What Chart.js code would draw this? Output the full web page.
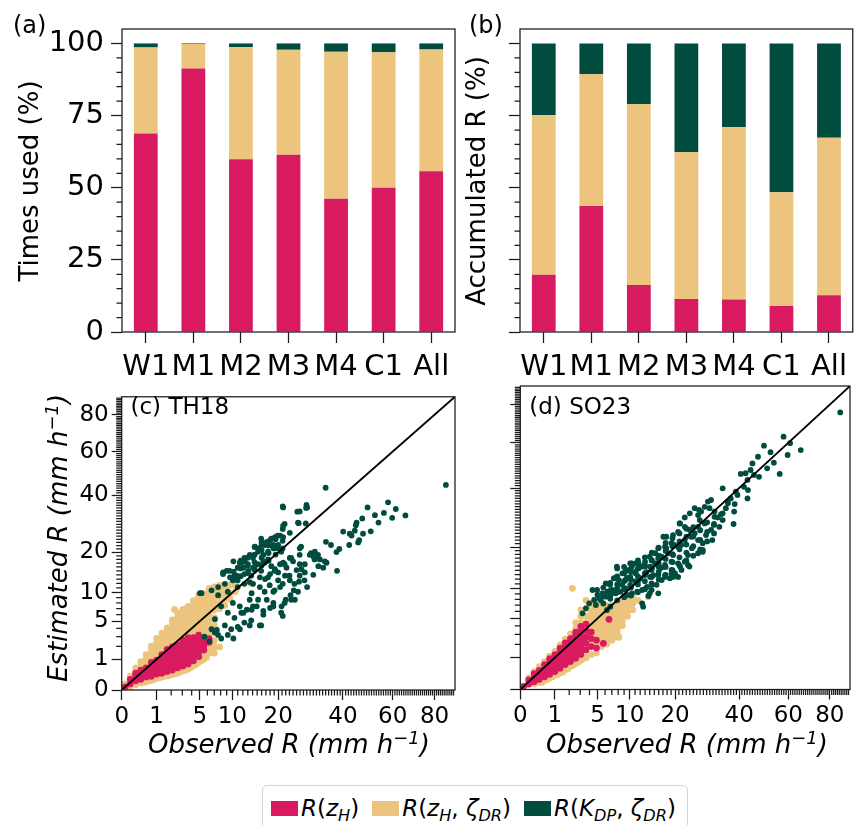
<!DOCTYPE html>
<html>
<head>
<meta charset="utf-8">
<script src="https://cdn.jsdelivr.net/npm/chart.js@4.4.1/dist/chart.umd.min.js"></script>
<style>
  body { margin: 0; background: #fff; }
  #fig { position: relative; width: 854px; height: 825px; overflow: hidden; font-family: "DejaVu Sans", sans-serif; }
  #fig canvas { position: absolute; }
  #legend { position: absolute; left: 262px; top: 785px; width: 426px; height: 60px; box-sizing: border-box;
            border: 1px solid #d4d4d4; border-radius: 5px; display: flex; align-items: flex-start;
            padding: 9px 0 0 8px; font-size: 23px; color: #000; }
  .item { display: flex; align-items: center; margin-right: 13px; white-space: nowrap; }
  .swatch { width: 27px; height: 15px; margin-right: 3px; }
  sub { font-size: 70%; vertical-align: -0.28em; line-height: 0; }
</style>
</head>
<body>
<div id="fig">
  <canvas id="pa" width="460" height="380" style="left:0;top:0"></canvas>
  <canvas id="pb" width="394" height="380" style="left:460px;top:0"></canvas>
  <canvas id="pc" width="460" height="400" style="left:0;top:380px"></canvas>
  <canvas id="pd" width="394" height="400" style="left:460px;top:380px"></canvas>
  <div id="legend"></div>
</div>
<script>
const categories = ['W1', 'M1', 'M2', 'M3', 'M4', 'C1', 'All'];

// how often each estimator was picked (%)
const usedZH     = [68.8, 91.3, 59.9, 61.4, 46.2, 50.0, 55.7];
const usedZHZdr  = [29.8, 8.5, 38.8, 36.4, 50.9, 46.9, 42.2];
const usedKdpZdr = [1.4, 0.2, 1.3, 2.2, 2.9, 3.1, 2.1];

// share of the accumulated rain (%)
const accZH      = [19.8, 43.7, 16.3, 11.4, 11.3, 9.0, 12.7];
const accZHZdr   = [55.3, 45.7, 62.7, 50.9, 59.7, 39.4, 54.6];
const accKdpZdr  = [24.9, 10.6, 21.0, 37.7, 29.0, 51.6, 32.7];

const pctTicks  = [0, 25, 50, 75, 100];
const rateTicks = [0, 1, 5, 10, 20, 40, 60, 80];
const rateMax   = 90.8;

const seriesNames  = ['R(z_H)', 'R(z_H, ζ_DR)', 'R(K_DP, ζ_DR)'];
const seriesColors = ['#D81B60', '#ECC47E', '#004D40'];

// observed vs estimated rain rate (mm/h), TH18
const th18ZH = [
  [0.01,0.01],[0.06,0.04],[0.06,0.12],[0.16,0.09],[0.16,0.2],[0.16,0.3],
  [0.3,0.12],[0.3,0.25],[0.3,0.42],[0.49,0.18],[0.49,0.32],[0.49,0.52],
  [0.72,0.2],[0.72,0.36],[0.72,0.56],[0.72,0.81],[1,0.27],[1,0.45],[1,0.67],[1,0.94],
  [1.32,0.3],[1.32,0.49],[1.32,0.72],[1.32,1],[1.32,1.32],
  [1.69,0.36],[1.69,0.56],[1.69,0.81],[1.69,1.1],[1.69,1.44],[1.69,1.74],
  [2.1,0.42],[2.1,0.64],[2.1,0.9],[2.1,1.21],[2.1,1.56],[2.1,1.96],
  [2.56,0.52],[2.56,0.76],[2.56,1.04],[2.56,1.37],[2.56,1.74],[2.56,2.16],
  [3.06,0.61],[3.06,0.86],[3.06,1.17],[3.06,1.51],[3.06,1.9],[3.06,2.34],[3.06,2.62],
  [3.61,0.72],[3.61,1],[3.61,1.32],[3.61,1.69],[3.61,2.1],[3.61,2.56],[3.61,2.89],
  [4.2,0.9],[4.2,1.21],[4.2,1.56],[4.2,1.96],[4.2,2.4],[4.2,2.89],
  [4.84,1.17],[4.84,1.51],[4.84,1.9],[4.84,2.34],[4.84,2.82],[4.84,3.17],
  [5.52,1.69],[5.52,2.1],[5.52,2.56],[6.25,2.4],[6.25,2.79],
  [0.39,0.2],[0.6,0.3],[0.86,0.42],[1.16,0.58],[1.5,0.74],[1.89,0.92],[2.33,1.12],[2.81,1.35],[3.33,1.6],[3.9,1.85],[4.52,2.1]
];
const th18ZHZdr = [
  [0.01,0.04],[0.06,0.2],[0.06,0.01],[0.16,0.36],[0.16,0.52],[0.16,0.03],
  [0.3,0.61],[0.3,0.85],[0.3,0.05],[0.49,0.72],[0.49,1],[0.49,1.32],[0.49,0.07],
  [0.72,1],[0.72,1.32],[0.72,1.69],[0.72,2.02],[0.72,0.1],
  [1,1.21],[1,1.56],[1,1.96],[1,2.4],[1,2.82],[1,0.14],
  [1.32,1.64],[1.32,2.04],[1.32,2.5],[1.32,2.99],[1.32,3.42],[1.32,0.18],
  [1.69,2.1],[1.69,2.56],[1.69,3.06],[1.69,3.61],[1.69,4.08],[1.69,0.21],
  [2.1,2.4],[2.1,2.89],[2.1,3.42],[2.1,4],[2.1,4.62],[2.1,5.2],[2.1,0.25],
  [2.56,2.62],[2.56,3.13],[2.56,3.69],[2.56,4.28],[2.56,4.93],[2.56,5.62],[2.56,6.25],[2.56,0.31],
  [3.06,3.06],[3.06,3.61],[3.06,4.2],[3.06,4.84],[3.06,5.52],[3.06,6.25],[3.06,6.86],[3.06,0.38],
  [3.61,3.31],[3.61,3.88],[3.61,4.49],[3.61,5.15],[3.61,5.86],[3.61,6.6],[3.61,7.4],[3.61,0.46],
  [4.2,3.42],[4.2,4],[4.2,4.62],[4.2,5.29],[4.2,6],[4.2,6.76],[4.2,7.56],[4.2,8.41],[4.2,0.61],
  [4.84,3.69],[4.84,4.28],[4.84,4.93],[4.84,5.62],[4.84,6.35],[4.84,7.13],[4.84,7.95],[4.84,8.82],[4.84,9.49],[4.84,0.81],
  [5.52,3.17],[5.52,3.72],[5.52,4.33],[5.52,4.97],[5.52,5.66],[5.52,6.4],[5.52,7.18],[5.52,8.01],[5.52,8.88],[5.52,9.8],[5.52,1],[5.52,1.25],
  [6.25,1.44],[6.25,1.82],[6.25,2.25],[6.25,3.31],[6.25,3.88],[6.25,4.49],[6.25,5.15],[6.25,5.86],[6.25,6.6],[6.25,7.4],[6.25,8.24],[6.25,9.12],[6.25,10.05],[6.25,10.89],
  [7.02,1.44],[7.02,1.96],[7.02,2.56],[7.02,3.42],[7.02,4.41],[7.02,5.52],[7.02,6.76],[7.02,7.84],[7.02,9],[7.02,10.24],[7.02,11.22],
  [7.84,1.96],[7.84,7.02],[7.84,8.12],[7.84,9.3],[7.84,10.56],[7.84,11.56],
  [8.7,7.56],[8.7,8.7],[8.7,9.92],[8.7,11.22],[9.61,8.7],[9.61,9.92],[9.61,11.56],
  [10.56,10.24],[10.56,11.56],[2.28,6.86],[13.69,11.9],[9.8,11.9],[10.7,11.2],
  [0.39,0.06],[0.6,0.09],[0.86,0.12],[1.16,0.16],[1.5,0.2],[1.89,0.23],[2.33,0.28],[2.81,0.34],
  [3.33,0.42],[3.9,0.53],[4.52,0.7],[5.18,0.9],[5.86,1.12],
  [0.39,0.6],[0.6,0.9],[0.86,1.3],[1.16,1.8],[1.5,2.3],[1.89,2.9],[2.33,3.5],[2.81,4.1],[3.33,4.8],[3.9,5.5],[4.52,6.3],[5.18,7.1],[5.86,8]
];
const th18KdpZdr = [
  [85.9,44.4],[34.0,43.2],[21.3,35.2],[25.2,33.6],[27.9,36.2],[28.1,35.2],[58.0,37.2],[61.4,34.6],[65.8,32.2],[56.2,33.1],
  [52.4,32.3],[59.8,31.3],[49.4,35.2],[47.3,31.1],[53.9,29.6],[45.1,29.6],[44.8,28.7],[50.7,26.6],[40.1,26.5],[42.5,25.8],
  [43.2,25.2],[44.4,26.8],[47.6,25.8],[46.1,23.7],[45.7,23.0],[42.3,22.2],[38.7,21.0],[37.7,20.1],[34.1,23.2],[35.8,22.2],
  [25.9,21.2],[25.6,29.4],[27.7,29.3],[21.3,28.5],[23.1,26.1],[20.5,25.2],[19.2,24.7],[21.3,24.7],[18.0,23.7],[16.4,22.4],
  [14.5,21.7],[18.8,22.2],[19.9,21.2],[30.5,20.2],[28.9,19.3],[30.0,18.9],[31.0,18.4],[32.1,18.0],[33.7,17.5],[34.3,17.1],
  [37.9,15.0],[33.2,15.8],[31.6,16.2],[30.0,14.0],[28.1,11.2],[27.4,16.7],[25.9,16.7],[25.0,15.2],[26.4,15.4],[27.4,14.6],
  [25.7,12.4],[24.2,10.5],[23.3,9.5],[24.5,8.6],[22.0,8.6],[20.9,7.4],[23.1,12.7],[21.8,13.8],[20.0,12.7],[20.5,11.2],
  [18.8,10.2],[17.2,8.6],[18.8,8.0],[18.0,7.1],[16.4,6.6],[21.2,5.8],[16.4,6.0],[14.9,7.4],[13.8,9.9],[15.6,11.2],
  [16.8,13.0],[18.0,14.2],[19.2,15.4],[20.5,16.7],[22.2,15.8],[24.0,17.5],[25.9,19.3],[23.1,18.4],[21.3,17.1],[20.0,14.6],
  [15.6,13.4],[14.1,11.9],[13.4,8.6],[12.8,6.8],[12.1,6.3],[11.4,7.4],
  [10.2,17.5],[11.4,17.1],[12.4,17.5],[13.4,19.3],[14.1,18.4],[15.2,20.2],[16.4,19.3],[17.5,20.2],[18.8,21.2],[20.0,22.2],
  [12.1,15.8],[13.1,15.0],[14.1,15.8],[15.2,16.7],[16.4,17.5],[17.5,18.0],[9.0,15.0],[9.6,13.4],[10.8,13.8],[8.4,14.2],
  [16.0,22.4],[17.2,23.2],[5.2,9.9],[6.6,10.5],[7.6,11.2],[8.7,11.9],[10.1,12.7],[8.4,14.6],[9.5,15.0],[11.0,15.8],
  [11.7,17.1],[13.0,16.7],[12.3,18.4],[14.4,19.3],[15.2,21.2],[16.7,22.2],[15.9,24.2],[18.3,24.2],[19.9,25.2],[21.2,27.4],
  [21.7,29.1],[25.4,29.6],[25.9,33.7],[21.2,35.6],[27.8,35.0],[13.7,13.8],[10.4,13.8],[7.6,9.5],[9.2,10.2],[11.0,11.2],
  [12.3,11.9],[19.1,21.2],[20.8,20.2],[16.7,17.1],[18.3,16.2],
  [6.6,3.9],[7.6,3.2],[8.7,4.4],[7.1,5.3],[9.2,6.3],[8.1,7.4],[10.1,8.0],[10.4,5.5],[11.7,6.3],[12.3,4.8],
  [13.7,5.1],[15.9,4.4],[14.1,7.4],[15.2,8.6],[16.7,10.2],[17.9,11.6],[19.1,10.5],[21.2,11.9],[21.7,8.0],[23.5,8.6],
  [25.4,10.2],[27.3,12.7],[25.9,13.8],[26.3,21.7],[29.3,19.8],[30.4,18.0],[31.5,19.3],[20.8,6.3],[5.6,3.0],[6.3,2.5],
  [7.1,3.5],[8.1,2.8],[9.2,3.2],[9.8,3.9],[11.0,4.2],[10.2,2.8],[11.4,3.9],[13.4,4.4],[15.6,4.4],[13.8,6.8],
  [18.8,7.4],[5.0,9.9],[7.4,3.8],[14.4,15.8],[15.9,15.0],[17.5,13.4],[19.1,15.0],[21.7,16.7],[23.5,18.4],[23.0,13.8],
  [24.4,11.9],[12.3,14.2],[11.0,12.7],[13.4,12.3],
  [10.24,12.96],[10.24,14.82],[11.56,13.69],[11.56,15.6],[11.56,17.64],[12.96,14.44],[12.96,16.4],[12.96,18.49],
  [14.44,15.21],[14.44,17.22],[14.44,19.36],[14.44,21.62],[16,16.4],[16,18.49],[16,20.7],[16,23.04],
  [17.64,17.64],[17.64,19.8],[17.64,22.09],[19.36,19.36],[19.36,21.62],[19.36,24.01],[21.16,21.16],[21.16,23.52]
];

// observed vs estimated rain rate (mm/h), SO23
const so23ZH = [
  [0.01,0.01],[0.06,0.03],[0.06,0.09],[0.16,0.06],[0.16,0.14],[0.16,0.25],
  [0.3,0.1],[0.3,0.21],[0.3,0.36],[0.49,0.16],[0.49,0.28],[0.49,0.44],[0.49,0.61],
  [0.72,0.23],[0.72,0.37],[0.72,0.55],[0.72,0.76],[0.72,0.94],
  [1,0.32],[1,0.49],[1,0.69],[1,0.92],[1,1.19],
  [1.32,0.45],[1.32,0.64],[1.32,0.86],[1.32,1.12],[1.32,1.42],[1.32,1.69],
  [1.69,0.61],[1.69,0.85],[1.69,1.12],[1.69,1.44],[1.69,1.8],[1.69,2.13],
  [2.1,0.77],[2.1,1.04],[2.1,1.35],[2.1,1.69],[2.1,2.07],[2.1,2.56],
  [2.56,0.96],[2.56,1.25],[2.56,1.59],[2.56,1.96],[2.56,2.37],[2.56,2.82],[2.56,3.24],
  [3.06,1.21],[3.06,1.56],[3.06,1.96],[3.06,2.4],[3.06,2.89],[3.06,3.42],[3.06,3.92],
  [3.61,1.56],[3.61,2.1],[3.61,2.72],[3.61,3.42],[3.61,4.2],
  [4.2,1.82],[4.2,2.56],[4.2,3.24],[4.84,1.69],[4.84,2.4],[5.76,2.1],[6.57,4.86],
  [0.39,0.25],[0.6,0.4],[0.86,0.6],[1.16,0.8],[1.5,1.05],[1.89,1.32],[2.33,1.62],[2.81,1.96],[3.33,2.3]
];
const so23ZHZdr = [
  [0.06,0.13],[0.16,0.31],[0.3,0.52],[0.49,0.77],[0.72,1.1],[1,1.44],[1.32,1.96],[1.69,2.5],[2.1,3.06],
  [2.56,3.69],[2.56,4.41],[3.06,4.41],[3.06,5.29],[3.06,6.25],[3.61,4.41],[3.61,5.29],[3.61,6.5],[3.61,7.84],
  [0.16,0.03],[0.3,0.05],[0.49,0.08],[0.72,0.13],[1,0.19],[1.32,0.27],[1.69,0.38],[2.1,0.52],[2.56,0.67],
  [3.06,0.85],[3.61,1],[3.61,1.21],
  [4.2,1.21],[4.2,2.1],[4.2,2.89],[4.2,3.8],[4.2,4.41],[4.2,5.06],[4.2,5.76],[4.2,6.5],[4.2,7.29],
  [4.84,1.32],[4.84,1.96],[4.84,2.72],[4.84,3.42],[4.84,4],[4.84,4.62],[4.84,5.29],[4.84,6],[4.84,6.76],[4.84,7.56],
  [5.52,1.82],[5.52,2.25],[5.52,2.72],[5.52,3.24],[5.52,3.8],[5.52,4.41],[5.52,5.06],[5.52,5.76],[5.52,6.5],[5.52,7.29],
  [6.25,2.04],[6.25,2.5],[6.25,2.99],[6.25,3.53],[6.25,4.12],[6.25,4.75],[6.25,5.43],[6.25,6.15],[6.25,6.92],
  [7.02,2.4],[7.02,3.06],[7.02,3.61],[7.02,4.2],[7.02,4.84],[7.02,5.52],[7.02,6.25],[7.02,7.02],
  [7.84,2.72],[7.84,3.24],[7.84,3.8],[7.84,4.41],[7.84,5.06],[7.84,5.76],[7.84,6.5],[7.84,7.29],
  [8.7,4],[8.7,4.62],[8.7,5.29],[8.7,6],[8.7,6.76],[8.7,7.56],
  [9.61,5.29],[9.61,6],[9.61,6.76],[9.61,7.56],[9.61,8.41],
  [10.56,6.25],[10.56,7.29],[10.56,8.41],[11.56,7.84],[13.69,8.47],[2.27,10.1],[8.12,2.69],
  [0.39,0.05],[0.6,0.1],[0.86,0.16],[1.16,0.22],[1.5,0.3],[1.89,0.42],[2.33,0.58],[2.81,0.74],[3.33,0.95]
];
const so23KdpZdr = [
  [85.5,75.7],[57.9,63.0],[60.8,59.8],[65.7,56.5],[59.7,54.2],[49.6,58.6],[52.3,55.5],[47.2,53.4],[53.7,50.7],[56.2,45.8],
  [50.9,48.2],[47.6,44.6],[45.0,50.4],[44.3,47.5],[42.4,46.1],[40.6,45.8],[45.6,45.4],[43.1,43.3],[41.8,40.5],[43.3,39.2],
  [43.1,36.0],[38.8,38.6],[39.4,37.3],[37.0,36.0],[38.4,33.9],[38.2,31.2],[38.0,27.0],[35.9,34.8],[34.2,39.9],[34.2,30.6],
  [32.6,29.2],[35.3,32.4],[31.5,29.4],[30.4,35.4],[29.4,34.8],[28.4,32.9],[29.9,32.4],[31.5,31.2],[27.3,31.2],[26.4,30.0],
  [26.9,28.3],[30.4,25.1],[33.1,26.1],[28.4,27.2],[25.4,32.4],[24.0,30.6],[22.6,29.2],[21.3,27.2],[22.6,26.1],[24.0,25.1],
  [25.4,24.1],[26.4,26.1],[24.4,23.0],[26.4,22.0],[27.8,21.1],[27.8,18.7],[20.8,24.5],[19.5,23.5],[19.1,21.1],[20.8,20.1],
  [22.6,22.0],[17.1,23.0],[17.5,20.1],[15.9,19.7],[15.2,18.3],[14.4,16.5],[16.7,17.4],[18.3,18.3],[19.5,17.8],[19.1,16.1],
  [21.3,14.9],[17.5,14.9],[15.9,14.9],[14.1,14.9],[13.0,16.1],[12.4,14.9],[11.7,15.7],[10.4,15.7],[11.1,13.7],[9.8,14.1],
  [8.7,13.3],[7.8,12.5],[7.3,12.2],[14.4,12.5],[15.9,12.9],[17.5,12.5],[19.1,13.3],[20.8,12.5],[26.4,18.3],
  [3.24,5.72],[3.6,6.5],[3.96,7.32],[4.55,7.9],[4.97,8.8],[5.62,9.12],[6.32,9.43],[7.06,9.76],[7.84,10.1],[8.66,10.8],
  [9.24,11.8],[10.1,12.5],[11.1,13.3],[11.7,14.5],[11.1,15.7],[13.0,14.9],[14.4,14.1],[15.2,15.7],[17.5,15.3],[19.1,14.1],
  [20.8,15.7],[22.6,16.1],[17.5,12.9],[15.9,9.12],[13.7,8.62],[12.4,7.32],[4.77,7.04],[5.41,7.9],[6.1,8.49],[6.82,8.8],
  [7.59,9.12],[8.39,9.43],[9.24,10.1],[10.1,10.8],[11.1,11.5],[12.0,12.2],[13.0,12.9],[14.1,12.5],[14.4,11.1],[13.4,10.4],
  [12.4,9.76],[11.4,9.43],[10.4,9.12],[9.52,8.8],[14.4,9.76],[15.5,10.8],[16.7,11.8],[18.7,12.2],[20.0,13.3],[21.7,14.1],
  [23.5,15.3],[4.35,9.76],[6.1,11.1],[7.59,12.2],[9.24,13.7],[10.4,14.9],[4.93,9.76],[7.79,14.9],[10.1,15.7],[14.0,17.4],
  [17.8,23.0],[21.2,27.2],[26.7,31.8],[6.28,6.23],[12.6,6.76],[14.0,9.12],[19.5,12.5],[23.9,14.9],[27.8,19.2],[30.8,22.0],
  [9.47,12.3],[11.7,11.8],[13.3,13.6],[15.9,17.0],[17.8,19.7],[19.8,20.6],[24.6,19.7],[28.8,23.5],[31.3,26.7],[34.2,28.3],
  [23.5,17.8],[21.6,20.6],[14.8,12.9],[16.6,14.6],[6.72,10.8],[8.12,11.8],[5.19,8.25],
  [5.76,7.29],[5.76,8.7],[5.76,10.24],[6.76,6.76],[6.76,8.12],[6.76,9.61],[6.76,11.22],
  [7.84,7.84],[7.84,9.3],[7.84,10.89],[7.84,12.6],[7.84,14.44],[9,8.41],[9,9.92],[9,11.56],[9,13.32],[9,14.82],
  [10.24,8.7],[10.24,10.24],[10.24,11.9],[10.24,13.69],[10.24,15.6],[11.56,9.3],[11.56,10.89],[11.56,12.6],[11.56,14.44],[11.56,16.4],
  [12.96,9.92],[12.96,11.56],[12.96,13.32],[12.96,15.21],[12.96,17.22],[14.44,10.89],[14.44,12.6],[14.44,14.44],[14.44,16.4],[14.44,18.49],
  [16,11.9],[16,13.69],[16,15.6],[16,17.64],[16,19.8],[17.64,12.96],[17.64,14.82],[17.64,16.81],[17.64,18.92],[17.64,21.16],
  [19.36,14.06],[19.36,16],[19.36,18.06],[19.36,20.25],[19.36,22.56],[21.16,15.21],[21.16,17.22],[21.16,19.36],[21.16,21.62],[21.16,24.01],
  [23.04,16.4],[23.04,18.49],[23.04,20.7],[23.04,23.04],[23.04,25.5],[25,17.64],[25,20.25],[25,23.04],[25,26.01],
  [27.04,19.36],[27.04,22.09],[27.04,25],[29.16,21.62],[29.16,24.5],[29.16,27.56],[31.36,24.01],[31.36,27.04],[33.64,30.25],[36,34.22]
];

const ink = '#1a1a1a';
const FONT = 'DejaVu Sans';
Chart.defaults.font.family = FONT;
Chart.defaults.color = '#000';

// minor ticks: every 5 % on the bar panels, every 1 mm/h on the rate panels
const pctMinor = [];
for (let v = 5; v < 105; v += 5) if (v % 25) pctMinor.push(v);
const rateMinor = [];
for (let v = 2; v <= 90; v++) if (!rateTicks.includes(v)) rateMinor.push(v);

// square-root axis for the rain-rate panels
class SqrtScale extends Chart.LinearScale {
  buildTicks() {
    return rateTicks.map(v => ({ value: v }));
  }
  getPixelForValue(v) {
    return this.getPixelForDecimal(Math.sqrt(Math.max(v, 0) / this.max));
  }
  getValueForPixel(p) {
    const d = this.getDecimalForPixel(p);
    return d * d * this.max;
  }
}
SqrtScale.id = 'sqrt';
SqrtScale.defaults = Chart.LinearScale.defaults;
Chart.register(SqrtScale);

function drawText(ctx, t) {
  const style = t.italic ? 'italic ' : '';
  const parts = t.parts.map(p => ({
    s: p[0],
    f: `${style}${Math.round(t.size * (p[1] || 1))}px "${FONT}"`,
    rise: (p[2] || 0) * t.size
  }));
  let w = 0;
  parts.forEach(p => { ctx.font = p.f; p.w = ctx.measureText(p.s).width; w += p.w; });
  ctx.save();
  ctx.translate(t.x, t.y);
  if (t.rotate) ctx.rotate(-Math.PI / 2);
  ctx.textBaseline = 'alphabetic';
  ctx.textAlign = 'left';
  let x = t.center ? -w / 2 : 0;
  parts.forEach(p => { ctx.font = p.f; ctx.fillText(p.s, x, -p.rise); x += p.w; });
  ctx.restore();
}

// frame, minor ticks and panel/axis titles
function decor(cfg) {
  return {
    id: 'decor',
    afterDraw(chart) {
      const { ctx, chartArea: a, scales } = chart;
      ctx.save();
      ctx.strokeStyle = ink;
      ctx.lineWidth = 1.25;
      ctx.beginPath();
      (cfg.minorY || []).forEach(v => {
        const y = scales.y.getPixelForValue(v);
        ctx.moveTo(a.left - 5.5, y); ctx.lineTo(a.left, y);
      });
      (cfg.minorX || []).forEach(v => {
        const x = scales.x.getPixelForValue(v);
        ctx.moveTo(x, a.bottom); ctx.lineTo(x, a.bottom + 5.5);
      });
      ctx.stroke();
      ctx.strokeRect(a.left, a.top, a.right - a.left, a.bottom - a.top);
      ctx.fillStyle = '#000';
      (cfg.texts || []).forEach(t => drawText(ctx, t));
      ctx.restore();
    }
  };
}

const tickGrid = len => ({ display: true, drawOnChartArea: false, drawTicks: true, offset: false,
                           tickLength: len, tickWidth: 1.25, tickColor: ink });

function barChart(id, values, o) {
  return new Chart(document.getElementById(id), {
    type: 'bar',
    data: {
      labels: categories,
      datasets: values.map((v, i) => ({
        label: seriesNames[i], data: v, backgroundColor: seriesColors[i],
        borderWidth: 0, categoryPercentage: 1, barPercentage: 0.5
      }))
    },
    options: {
      responsive: false, animation: false, events: [], devicePixelRatio: 1,
      layout: { padding: { top: 29, right: o.right, left: 0, bottom: 0 } },
      plugins: { legend: { display: false }, tooltip: { enabled: false } },
      scales: {
        x: {
          stacked: true, grid: tickGrid(11), border: { display: false },
          ticks: { font: { size: 29 }, padding: 7, maxRotation: 0, autoSkip: false },
          afterFit: s => { s.height = 48; }
        },
        y: {
          stacked: true, min: 0, max: 105, grid: tickGrid(11), border: { display: false },
          ticks: { display: o.labels, font: { size: 29 }, padding: 7 },
          afterBuildTicks: s => { s.ticks = pctTicks.map(v => ({ value: v })); },
          afterFit: s => { s.width = o.axisW; }
        }
      }
    },
    plugins: [decor({ minorY: pctMinor, texts: o.texts })]
  });
}

function scatterChart(id, clouds, o) {
  const datasets = [{
    type: 'line', data: [{ x: 0, y: 0 }, { x: rateMax, y: rateMax }],
    borderColor: '#000', borderWidth: 1.8, pointRadius: 0, showLine: true, fill: false
  }];
  // K_DP points sit on top, then z_H, then z_H with zeta_DR underneath
  [2, 0, 1].forEach(i => datasets.push({
    label: seriesNames[i],
    data: clouds[i].map(([x, y]) => ({ x, y })),
    backgroundColor: seriesColors[i], borderColor: seriesColors[i],
    pointRadius: i === 2 ? 2.9 : 3.4, pointBorderWidth: 0
  }));
  return new Chart(document.getElementById(id), {
    type: 'scatter',
    data: { datasets },
    options: {
      responsive: false, animation: false, events: [], devicePixelRatio: 1,
      layout: { padding: { top: 6, right: o.right, left: 0, bottom: 0 } },
      plugins: { legend: { display: false }, tooltip: { enabled: false } },
      scales: {
        x: {
          type: 'sqrt', min: 0, max: rateMax, grid: tickGrid(10), border: { display: false },
          ticks: { font: { size: 23 }, padding: 3, maxRotation: 0, autoSkip: false, callback: v => String(v) },
          afterFit: s => { s.height = o.axisH; }
        },
        y: {
          type: 'sqrt', min: 0, max: rateMax, grid: tickGrid(10), border: { display: false },
          ticks: { display: o.labels, font: { size: 23 }, padding: 3, autoSkip: false, callback: v => String(v) },
          afterFit: s => { s.width = o.axisW; }
        }
      }
    },
    plugins: [decor({ minorX: rateMinor, minorY: rateMinor, texts: o.texts })]
  });
}

const rateTitle = [['Observed R (mm h'], ['\u22121', 0.7, 0.35], [')']];

barChart('pa', [usedZH, usedZHZdr, usedKdpZdr], {
  right: 5, axisW: 122, labels: true,
  texts: [
    { parts: [['(a)']], x: 13, y: 32.5, size: 24 },
    { parts: [['Times used (%)']], x: 37.5, y: 181, size: 26, rotate: true, center: true }
  ]
});
barChart('pb', [accZH, accZHZdr, accKdpZdr], {
  right: 0.6, axisW: 60, labels: false,
  texts: [
    { parts: [['(b)']], x: 9, y: 32.5, size: 24 },
    { parts: [['Accumulated R (%)']], x: 25, y: 181, size: 26, rotate: true, center: true }
  ]
});
scatterChart('pc', [th18ZH, th18ZHZdr, th18KdpZdr], {
  right: 5, axisW: 121.7, axisH: 90, labels: true,
  texts: [
    { parts: [['(c) TH18']], x: 130.5, y: 33.5, size: 23 },
    { parts: [['Estimated R (mm h'], ['\u22121', 0.7, 0.35], [')']], x: 67, y: 158, size: 26, italic: true, rotate: true, center: true },
    { parts: rateTitle, x: 289, y: 373, size: 26, italic: true, center: true }
  ]
});
scatterChart('pd', [so23ZH, so23ZHZdr, so23KdpZdr], {
  right: 0.6, axisW: 60.3, axisH: 90.5, labels: false,
  texts: [
    { parts: [['(d) SO23']], x: 69.3, y: 33.5, size: 23 },
    { parts: rateTitle, x: 227, y: 373, size: 26, italic: true, center: true }
  ]
});

// legend: letters italic, trailing capitals as subscripts
function mathLabel(s) {
  return s.replace(/_([A-Z]+)/g, '<sub>$1</sub>')
          .replace(/([A-Za-z\u03b6]+)(?![^<]*>)/g, '<i>$1</i>');
}
const legend = document.getElementById('legend');
seriesNames.forEach((name, i) => {
  const item = document.createElement('div');
  item.className = 'item';
  item.innerHTML = `<span class="swatch" style="background:${seriesColors[i]}"></span><span>${mathLabel(name)}</span>`;
  legend.appendChild(item);
});
</script>
</body>
</html>
